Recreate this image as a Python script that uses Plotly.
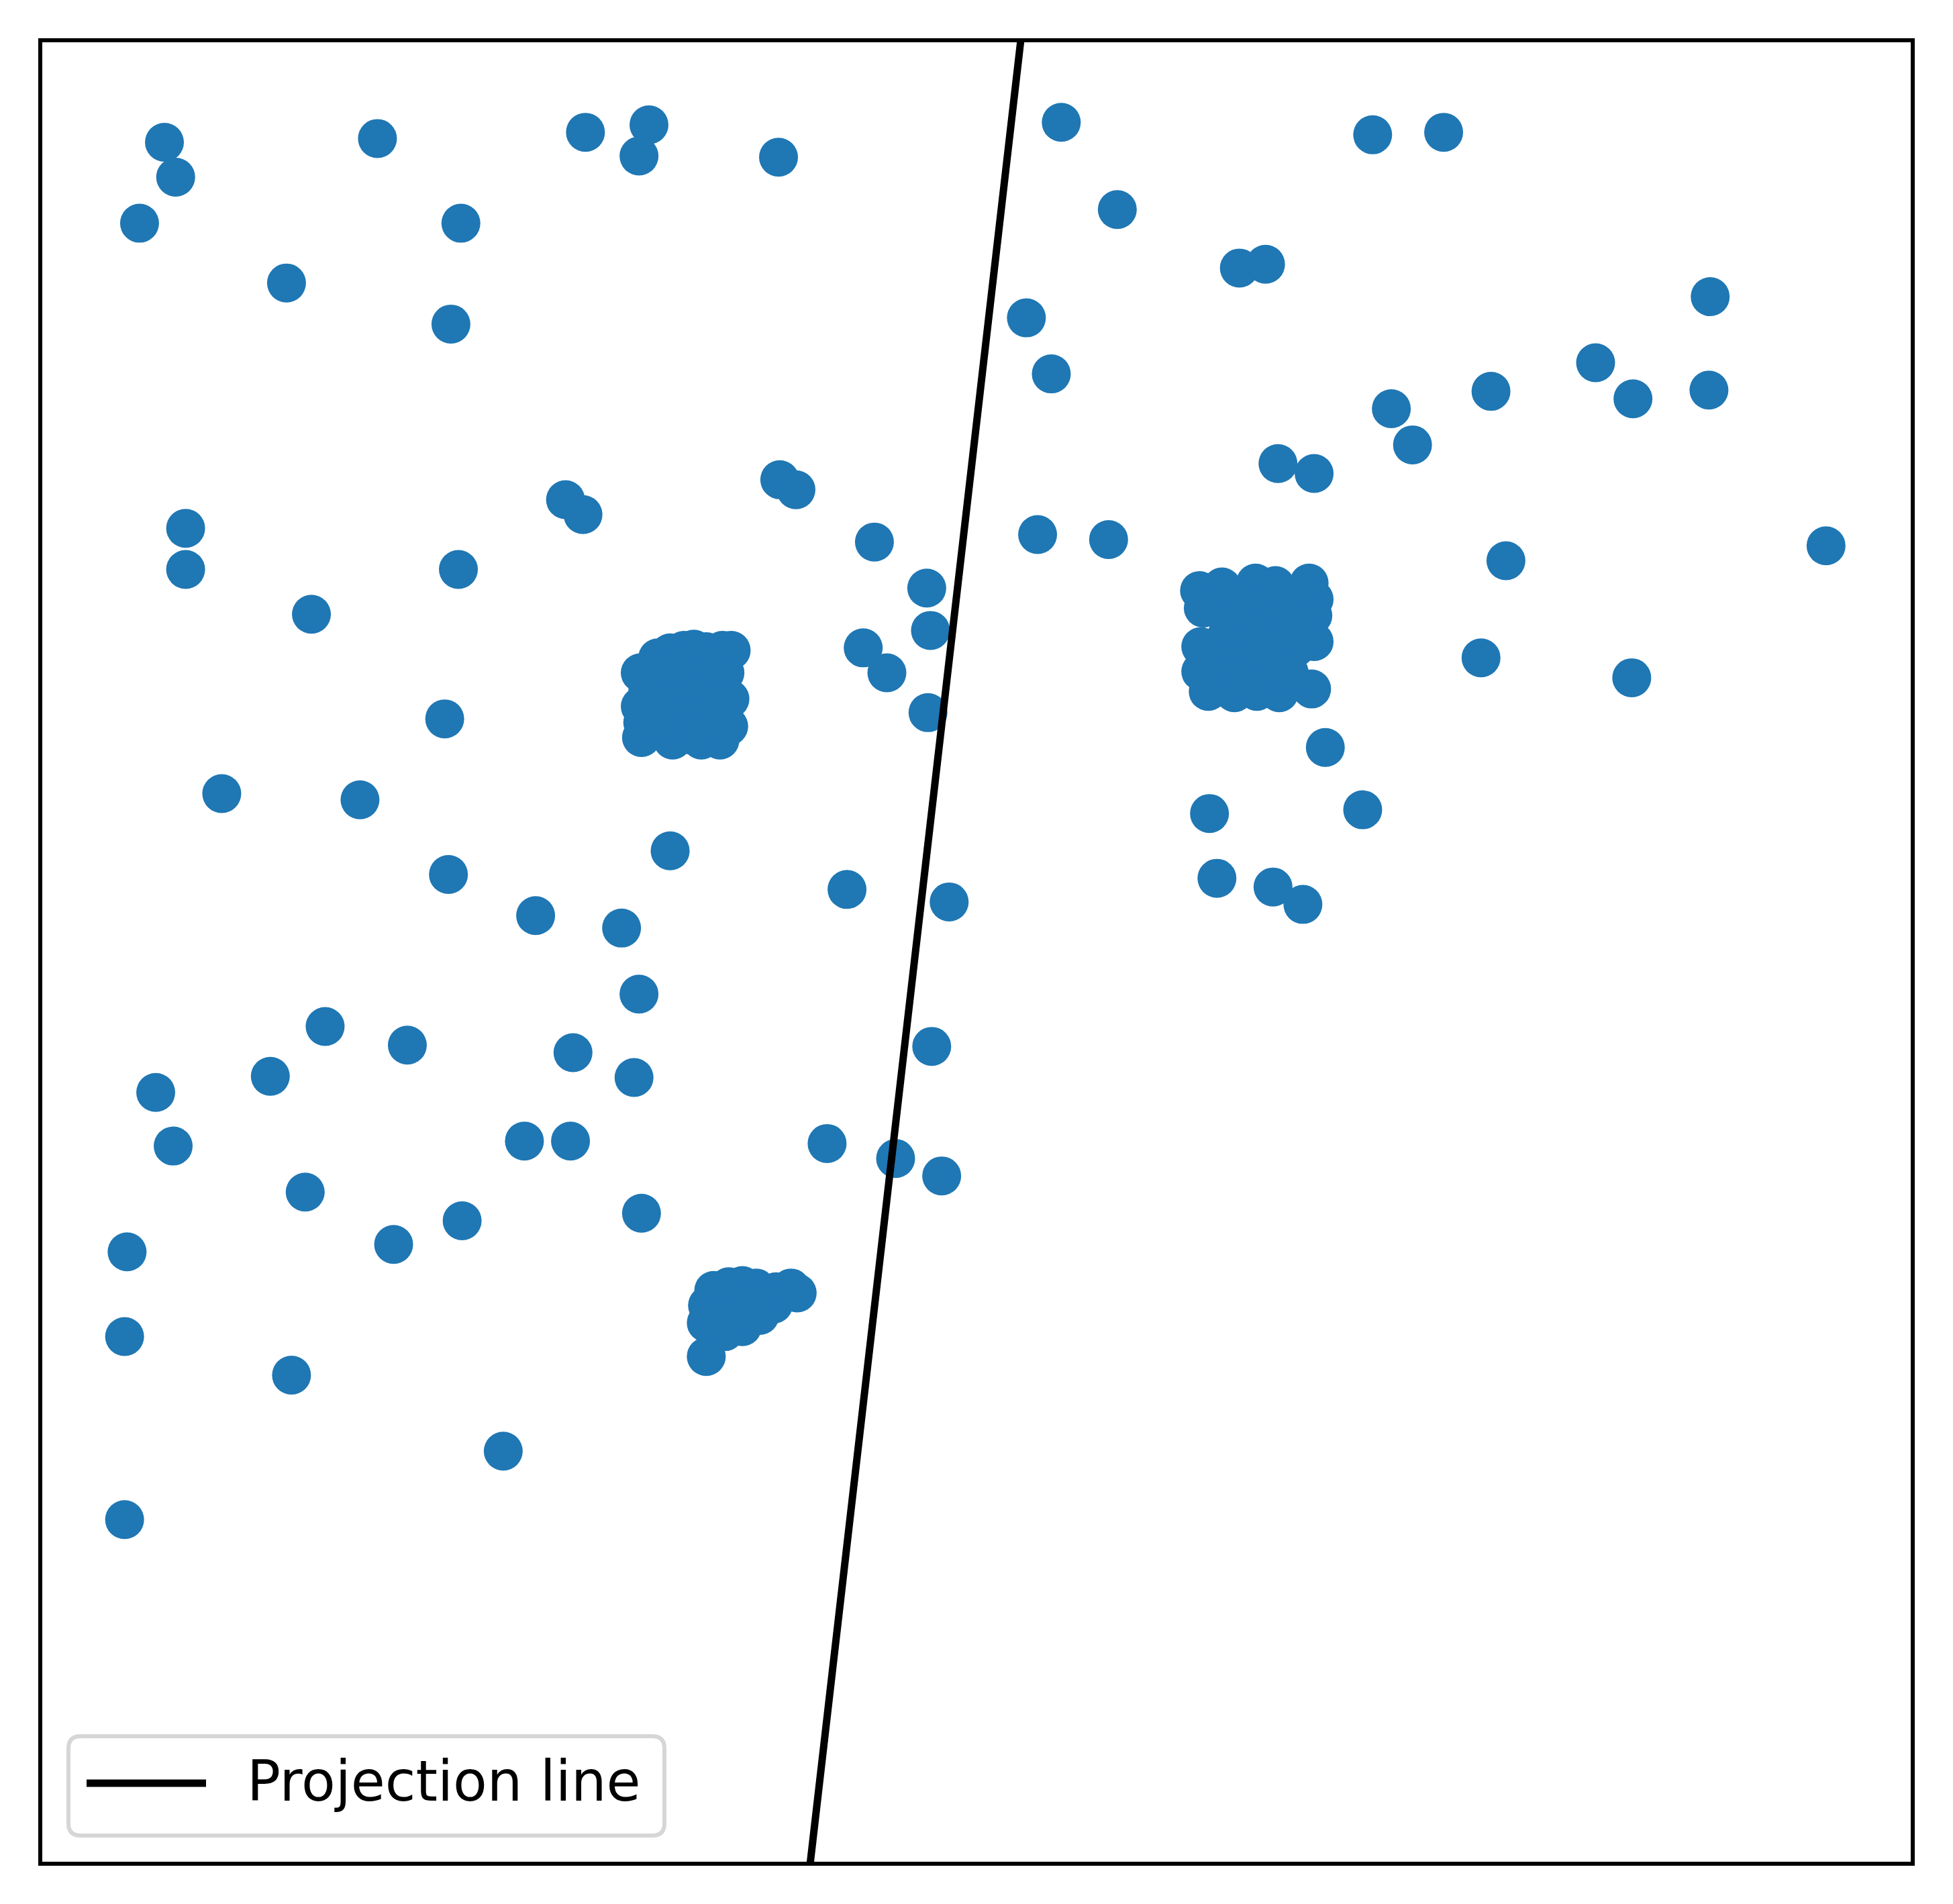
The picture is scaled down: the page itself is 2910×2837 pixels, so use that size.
import plotly.graph_objects as go

# point positions (x to the right, y downwards)
scatter_x = [
    132, 141, 112, 303, 470, 521, 513, 625, 370, 230, 362,
    149, 149, 454, 468, 626, 639, 368, 250, 702, 744, 747, 693, 712, 745,
    357, 178, 289, 360, 538, 430, 499, 680, 762, 513, 261, 327, 460, 217,
    509, 125, 139, 421, 458, 664, 719, 756, 748, 245, 371, 515, 316, 102,
    100, 234, 404, 100,
    852, 1102, 1159, 897, 995, 1016, 824, 1373, 844, 1281, 1117, 1197, 1311,
    1372, 1134, 1026, 1055, 833, 890, 1466, 1209, 1189, 1310, 1064, 971,
    1094, 977, 1022, 1046,
]
scatter_y = [
    114, 142, 179, 111, 106, 100, 125, 126, 179, 227, 260,
    424, 457, 401, 413, 385, 393, 457, 493, 435, 472, 506, 520, 540, 572,
    577, 637, 642, 702, 683, 735, 745, 714, 724, 798, 824, 839, 845, 864,
    865, 877, 920, 916, 916, 918, 930, 944, 840, 957, 980, 974, 999, 1005,
    1073, 1104, 1165, 1220,
    98, 108, 106, 168, 215, 212, 255, 238, 300, 291, 328, 314, 320,
    313, 357, 372, 380, 429, 433, 438, 450, 528, 544, 600, 653,
    650, 705, 712, 726,
]

# dense groups
group_a_x = [514, 514, 515, 528, 538, 549, 557, 567, 580, 587, 582, 586, 585, 578,
             563, 540, 520, 516, 530, 545, 560, 572, 535, 550, 565, 575, 530, 548,
             562, 572, 555, 542, 568]
group_a_y = [540, 567, 592, 528, 524, 522, 521, 523, 522, 522, 540, 561, 583, 594,
             594, 594, 555, 580, 545, 540, 540, 545, 560, 558, 560, 565, 578, 575,
             578, 580, 590, 535, 530]

group_b_x = [963, 981, 1008, 1024, 1051, 1055, 1054, 1055, 1053, 1027, 1009, 991,
             970, 964, 964, 966, 980, 1000, 1020, 1040, 985, 1005, 1025, 1040, 980,
             1000, 1020, 1035, 995, 1040, 1015]
group_b_y = [474, 471, 468, 470, 468, 481, 494, 515, 553, 556, 555, 556,
             555, 539, 519, 488, 490, 485, 488, 485, 510, 505, 510, 520, 530,
             530, 535, 540, 545, 500, 520]

group_c_x = [567, 568, 567, 573, 585, 596, 607, 623, 640, 635, 621, 610, 596, 582,
             580, 595, 590, 575, 605]
group_c_y = [1089, 1048, 1062, 1036, 1033, 1032, 1034, 1037, 1038, 1034, 1047, 1056,
             1065, 1069, 1050, 1045, 1056, 1060, 1045]

line_x = [823.2, 646.5]
line_y = [0, 1530]

x_range = [32.3, 1535.6]
y_range = [1496.3, 32.1]

all_x = scatter_x + group_a_x + group_b_x + group_c_x
all_y = scatter_y + group_a_y + group_b_y + group_c_y

W, H = 2910, 2837
OFF = 8  # page body margin
L, R, T, B = 60 - OFF, 60 + OFF, 60 - OFF, 60 + OFF


def px(x):
    return (x - OFF - L) / (W - L - R)


def py(y):
    return 1 - (y - OFF - T) / (H - T - B)


fig = go.Figure()

fig.add_trace(go.Scatter(
    x=all_x, y=all_y, mode="markers",
    marker=dict(size=58, color="#1f77b4", line=dict(width=0)),
    showlegend=False,
))

fig.add_trace(go.Scatter(
    x=line_x, y=line_y, mode="lines",
    line=dict(color="black", width=11),
    name="Projection line", showlegend=False,
))

# legend box drawn by hand (rounded corners, long line sample)
x0, x1, y0, y1 = px(102), px(990), py(2735), py(2587)
rx = 18 / (W - L - R)
ry = 18 / (H - T - B)
path = (
    f"M{x0 + rx},{y0} L{x1 - rx},{y0} Q{x1},{y0} {x1},{y0 + ry} "
    f"L{x1},{y1 - ry} Q{x1},{y1} {x1 - rx},{y1} "
    f"L{x0 + rx},{y1} Q{x0},{y1} {x0},{y1 - ry} "
    f"L{x0},{y0 + ry} Q{x0},{y0} {x0 + rx},{y0} Z"
)

fig.update_layout(
    width=W, height=H,
    margin=dict(l=L, r=R, t=T, b=B),
    plot_bgcolor="white", paper_bgcolor="white",
    xaxis=dict(range=x_range, showgrid=False, zeroline=False, showticklabels=False,
               ticks=""),
    yaxis=dict(range=y_range, showgrid=False, zeroline=False, showticklabels=False,
               ticks=""),
    shapes=[
        dict(type="path", xref="paper", yref="paper", path=path,
             line=dict(color="#d6d6d6", width=6), fillcolor="white", layer="above"),
        dict(type="line", xref="paper", yref="paper",
             x0=px(129), x1=px(307), y0=py(2657), y1=py(2657),
             line=dict(color="black", width=11), layer="above"),
        dict(type="rect", xref="paper", yref="paper", x0=0, x1=1, y0=0, y1=1,
             line=dict(color="black", width=6), layer="above"),
    ],
    annotations=[
        dict(text="Projection line", xref="paper", yref="paper",
             x=px(366), y=py(2654), xanchor="left", yanchor="middle",
             showarrow=False, font=dict(family="DejaVu Sans", size=83, color="black")),
    ],
)

fig.write_html("out.html")
